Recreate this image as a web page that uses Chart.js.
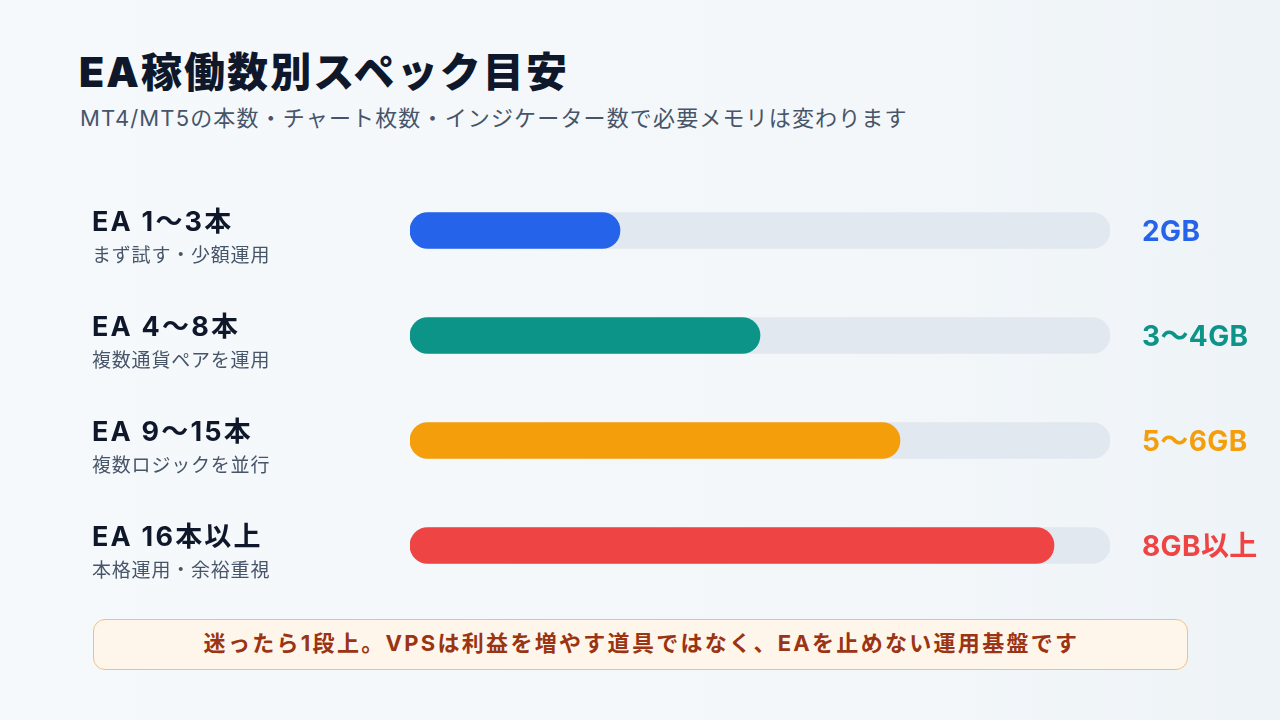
<!DOCTYPE html>
<html lang="ja">

<head>
  <meta charset="UTF-8" />
  <title>EA稼働数別スペック目安</title>
  <script src="https://cdn.jsdelivr.net/npm/chart.js@4"></script>
  <style>
    html, body {
      margin: 0;
      width: 1280px;
      height: 720px;
      overflow: hidden;
      font-family: Inter, "Noto Sans CJK JP", sans-serif;
      background: linear-gradient(90deg, #f6f9fc 0%, #f3f7fa 70%, #eef3f7 100%);
    }
    .title {
      position: absolute;
      left: 79px;
      top: 52px;
      font-size: 41px;
      line-height: 1;
      font-weight: 900;
      letter-spacing: 2.1px;
      color: #0f172a;
      margin: 0;
    }
    .subtitle {
      position: absolute;
      left: 80px;
      top: 107px;
      font-size: 22px;
      line-height: 1;
      letter-spacing: 1.15px;
      color: #475569;
      margin: 0;
    }
    #chart {
      position: absolute;
      left: 0;
      top: 0;
    }
    .note {
      position: absolute;
      left: 93px;
      top: 619px;
      width: 1095px;
      height: 51px;
      box-sizing: border-box;
      border: 1.5px solid #f2c07e;
      border-radius: 12px;
      background: #fff6eb;
      color: #9a3412;
      font-size: 22px;
      font-weight: 700;
      letter-spacing: 2.3px;
      padding-left: 2px;
      line-height: 47px;
      text-align: center;
    }
  </style>
</head>

<body>
  <h1 class="title">EA稼働数別スペック目安</h1>
  <p class="subtitle">MT4/MT5の本数・チャート枚数・インジケーター数で必要メモリは変わります</p>
  <canvas id="chart" width="1280" height="720"></canvas>
  <div class="note">迷ったら1段上。VPSは利益を増やす道具ではなく、EAを止めない運用基盤です</div>

  <script>
    // data
    const categories = ["EA 1〜3本", "EA 4〜8本", "EA 9〜15本", "EA 16本以上"];
    const subLabels = ["まず試す・少額運用", "複数通貨ペアを運用", "複数ロジックを並行", "本格運用・余裕重視"];
    const fillValues = [30, 50, 70, 92];
    const trackValues = [100, 100, 100, 100];
    const valueLabels = ["2GB", "3〜4GB", "5〜6GB", "8GB以上"];
    const barColors = ["#2563eb", "#0d9488", "#f59e0b", "#ef4444"];

    const FONT = 'Inter, "Noto Sans CJK JP", sans-serif';

    // left labels + value labels next to the track
    const rowLabels = {
      id: "rowLabels",
      afterDatasetsDraw(chart) {
        const ctx = chart.ctx;
        const yScale = chart.scales.y;
        const area = chart.chartArea;
        ctx.save();
        ctx.textAlign = "left";
        ctx.textBaseline = "alphabetic";
        categories.forEach((cat, i) => {
          const y = yScale.getPixelForValue(i);
          ctx.fillStyle = "#0f172a";
          ctx.font = "700 27px " + FONT;
          ctx.letterSpacing = "2.2px";
          ctx.fillText(cat, 92, y + 0);
          ctx.fillStyle = "#475569";
          ctx.font = "400 19px " + FONT;
          ctx.letterSpacing = "0.8px";
          ctx.fillText(subLabels[i], 92, y + 31);
          ctx.fillStyle = barColors[i];
          ctx.font = "700 28px " + FONT;
          ctx.letterSpacing = "0.4px";
          ctx.fillText(valueLabels[i], area.right + 32, y + 10);
        });
        ctx.restore();
      }
    };

    const chart = new Chart(document.getElementById("chart"), {
      type: "bar",
      data: {
        labels: categories,
        datasets: [
          {
            label: "メモリ",
            data: fillValues,
            backgroundColor: barColors,
            barThickness: 36,
            borderRadius: 18,
            borderSkipped: false,
            order: 0,
          },
          {
            label: "track",
            data: trackValues,
            backgroundColor: "#e2e8f0",
            barThickness: 36,
            borderRadius: 18,
            borderSkipped: false,
            order: 1,
          },
        ],
      },
      options: {
        indexAxis: "y",
        responsive: false,
        animation: false,
        grouped: false,
        layout: {
          padding: { left: 410, right: 170, top: 178, bottom: 122 },
        },
        scales: {
          x: { display: false, min: 0, max: 100 },
          y: { display: false },
        },
        plugins: {
          legend: { display: false },
          tooltip: { enabled: false },
        },
      },
      plugins: [rowLabels],
    });
  </script>
</body>

</html>
